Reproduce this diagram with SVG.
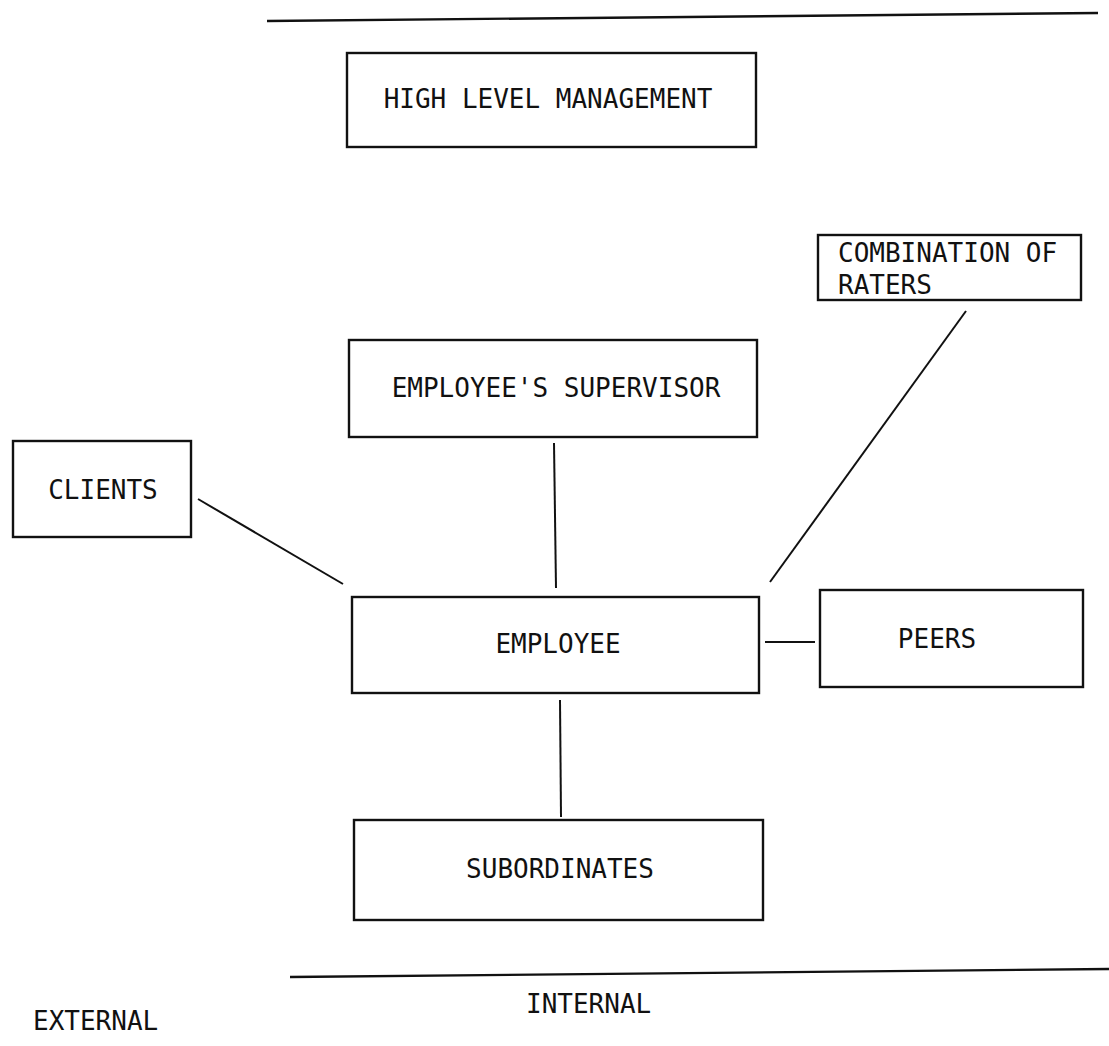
<svg xmlns="http://www.w3.org/2000/svg" width="1109" height="1046" viewBox="0 0 1109 1046">
  <style>
    .box { fill: #ffffff; stroke: #111111; stroke-width: 2.4; }
    .link { stroke: #111111; stroke-width: 2; fill: none; stroke-linecap: butt; }
    .rule { stroke: #111111; stroke-width: 2.4; fill: none; }
    .lbl { font-family: "DejaVu Sans Mono", "Liberation Mono", monospace; font-size: 26px; fill: #111111; }
    .mid { text-anchor: middle; }
  </style>
  <rect width="1109" height="1046" fill="#ffffff"/>

  <!-- horizontal rules bounding the internal area -->
  <g id="rules">
    <line class="rule" x1="267" y1="21" x2="1098" y2="13"/>
    <line class="rule" x1="290" y1="977" x2="1109" y2="969"/>
  </g>

  <!-- connectors between raters and the employee -->
  <g id="connectors">
    <line class="link" x1="198" y1="499" x2="343" y2="584"/>
    <line class="link" x1="554" y1="443" x2="556" y2="588"/>
    <line class="link" x1="966" y1="311" x2="770" y2="582"/>
    <line class="link" x1="765" y1="642" x2="815" y2="642"/>
    <line class="link" x1="560" y1="700" x2="561" y2="817"/>
  </g>

  <g id="high-level-management">
    <rect class="box" x="347" y="53" width="409" height="94"/>
    <text class="lbl mid" x="548" y="108">HIGH LEVEL MANAGEMENT</text>
  </g>

  <g id="combination-of-raters">
    <rect class="box" x="818" y="235" width="263" height="65"/>
    <text class="lbl" x="838" y="262">COMBINATION OF</text>
    <text class="lbl" x="838" y="294">RATERS</text>
  </g>

  <g id="employees-supervisor">
    <rect class="box" x="349" y="340" width="408" height="97"/>
    <text class="lbl mid" x="556" y="397">EMPLOYEE'S SUPERVISOR</text>
  </g>

  <g id="clients">
    <rect class="box" x="13" y="441" width="178" height="96"/>
    <text class="lbl mid" x="103" y="499">CLIENTS</text>
  </g>

  <g id="employee">
    <rect class="box" x="352" y="597" width="407" height="96"/>
    <text class="lbl mid" x="558" y="653">EMPLOYEE</text>
  </g>

  <g id="peers">
    <rect class="box" x="820" y="590" width="263" height="97"/>
    <text class="lbl mid" x="937" y="648">PEERS</text>
  </g>

  <g id="subordinates">
    <rect class="box" x="354" y="820" width="409" height="100"/>
    <text class="lbl mid" x="560" y="878">SUBORDINATES</text>
  </g>

  <g id="area-labels">
    <text class="lbl" x="33" y="1030">EXTERNAL</text>
    <text class="lbl" x="526" y="1013">INTERNAL</text>
  </g>
</svg>
